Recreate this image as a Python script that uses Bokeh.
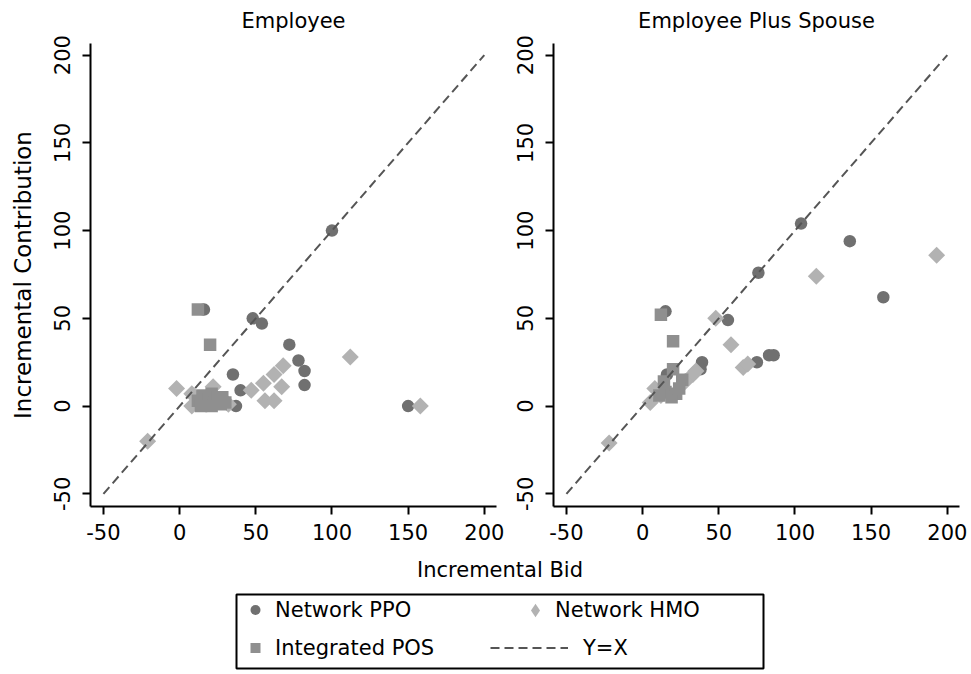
import math
from bokeh.plotting import figure
from bokeh.layouts import column, row
from bokeh.models import FixedTicker, Legend, LegendItem, Range1d, ColumnDataSource
from bokeh.embed import file_html
from bokeh.resources import INLINE

# ---------------- data ----------------
panel_titles = ["Employee", "Employee Plus Spouse"]
tick_values = [-50, 0, 50, 100, 150, 200]
tick_labels = ["-50", "0", "50", "100", "150", "200"]
diag_values = [-50, 200]

# Employee panel
emp_ppo_bid = [100, 16, 48, 54, 72, 78, 82, 82, 35, 40, 37, 150]
emp_ppo_contrib = [100, 55, 50, 47, 35, 26, 20, 12, 18, 9, 0, 0]
emp_hmo_bid = [112, 68, -2, 47, 55, 62, 67, 56, 62, 158, -21, 8, 22, 32, 8]
emp_hmo_contrib = [28, 23, 10, 9, 13, 18, 11, 3, 3, 0, -20, 7, 11, 1, 0]
emp_pos_bid = [12, 20, 12, 15, 17, 19, 21, 23, 25, 27, 28, 14, 21, 30]
emp_pos_contrib = [55, 35, 3, 6, 1, 4, 7, 2, 5, 1, 5, 0, 0, 2]

# Employee Plus Spouse panel
sp_ppo_bid = [104, 136, 158, 76, 15, 56, 83, 86, 75, 39, 38, 16]
sp_ppo_contrib = [104, 94, 62, 76, 54, 49, 29, 29, 25, 25, 21, 18]
sp_hmo_bid = [193, 114, 48, 58, 66, 69, 33, 35, 5, -22, 8, 12, 28]
sp_hmo_contrib = [86, 74, 50, 35, 22, 24, 18, 20, 2, -21, 10, 6, 14]
sp_pos_bid = [12, 20, 20, 14, 26, 15, 22, 19, 11, 24]
sp_pos_contrib = [52, 37, 21, 14, 15, 8, 7, 5, 6, 10]

legend_labels = ["Network PPO", "Network HMO", "Integrated POS", "Y=X"]
x_title = "Incremental Bid"
y_title = "Incremental Contribution"

# ---------------- style ----------------
FONT = "DejaVu Sans"
FS = "21px"
C_PPO = "#707070"
C_POS = "#8f8f8f"
C_HMO = "#b2b2b2"
C_LINE = "#555555"
DASH = "9 5"

overrides = {v: s for v, s in zip(tick_values, tick_labels)}


def style_title(t, standoff):
    t.align = "center"
    t.vertical_align = "top"
    t.text_font = FONT
    t.text_font_size = FS
    t.text_font_style = "normal"
    t.text_color = "black"
    t.standoff = standoff


def panel(title, ppo_src, hmo_src, pos_src, width, min_left, min_right, ylabel=None):
    p = figure(width=width, height=546,
               x_range=Range1d(-58.5, 208), y_range=Range1d(-57.2, 206.6),
               output_backend="svg", toolbar_location=None,
               min_border_left=min_left, min_border_right=min_right,
               min_border_top=42, min_border_bottom=40)
    p.title.text = title
    style_title(p.title, 17)
    p.outline_line_color = None
    p.grid.visible = False
    for ax in (p.xaxis[0], p.yaxis[0]):
        ax.ticker = FixedTicker(ticks=tick_values)
        ax.major_label_overrides = overrides
        ax.axis_line_width = 2
        ax.axis_line_color = "black"
        ax.major_tick_line_width = 2
        ax.major_tick_line_color = "black"
        ax.major_tick_out = 8
        ax.major_tick_in = 0
        ax.minor_tick_line_color = None
        ax.major_label_text_font = FONT
        ax.major_label_text_font_size = FS
        ax.major_label_text_color = "black"
    p.xaxis.major_label_standoff = 9
    p.yaxis.major_label_standoff = 12
    p.yaxis.major_label_orientation = "vertical"
    if ylabel:
        p.yaxis.axis_label = ylabel
        p.yaxis.axis_label_text_font = FONT
        p.yaxis.axis_label_text_font_size = "23px"
        p.yaxis.axis_label_text_font_style = "normal"
        p.yaxis.axis_label_text_color = "black"
        p.yaxis.axis_label_standoff = 16
    p.scatter("x", "y", source=ppo_src, marker="circle", size=12.5, color=C_PPO, line_color=None)
    p.scatter("x", "y", source=hmo_src, marker="square", size=12, angle=math.pi / 4,
              color=C_HMO, line_color=None)
    p.scatter("x", "y", source=pos_src, marker="square", size=12.5, color=C_POS, line_color=None)
    p.line(diag_values, diag_values, line_color=C_LINE, line_width=2, line_dash=DASH)
    return p


emp_ppo = ColumnDataSource(dict(x=emp_ppo_bid, y=emp_ppo_contrib))
emp_hmo = ColumnDataSource(dict(x=emp_hmo_bid, y=emp_hmo_contrib))
emp_pos = ColumnDataSource(dict(x=emp_pos_bid, y=emp_pos_contrib))
sp_ppo = ColumnDataSource(dict(x=sp_ppo_bid, y=sp_ppo_contrib))
sp_hmo = ColumnDataSource(dict(x=sp_hmo_bid, y=sp_hmo_contrib))
sp_pos = ColumnDataSource(dict(x=sp_pos_bid, y=sp_pos_contrib))
diag_src = ColumnDataSource(dict(x=diag_values, y=diag_values))

p1 = panel(panel_titles[0], emp_ppo, emp_hmo, emp_pos, 510, 90, 14, ylabel=y_title)
p2 = panel(panel_titles[1], sp_ppo, sp_hmo, sp_pos, 461, 43, 12)

# ---------------- bottom: x title + legend box ----------------
p3 = figure(width=971, height=128, x_range=Range1d(0, 1), y_range=Range1d(0, 1),
            x_axis_type=None, y_axis_type=None, output_backend="svg", toolbar_location=None,
            min_border_left=236, min_border_right=208, min_border_top=47, min_border_bottom=6)
p3.grid.visible = False
p3.outline_line_color = "black"
p3.outline_line_width = 2
p3.title.text = x_title
style_title(p3.title, 22)

# hidden renderers (sharing the panels' data) that only feed the legend keys
r_ppo = p3.scatter("x", "y", source=emp_ppo, marker="circle", color=C_PPO, line_color=None, visible=False)
r_hmo = p3.scatter("x", "y", source=emp_hmo, marker="diamond", color=C_HMO, line_color=None, visible=False)
r_pos = p3.scatter("x", "y", source=emp_pos, marker="square", color=C_POS, line_color=None, visible=False)
r_line = p3.line("x", "y", source=diag_src, line_color=C_LINE, line_width=2, line_dash=DASH, visible=False)


def make_legend(items, loc, glyph_w, glyph_h, standoff, spacing=13):
    leg = Legend(items=items, location=loc, glyph_width=glyph_w, glyph_height=glyph_h,
                 label_height=25, label_standoff=standoff, padding=5, spacing=spacing,
                 margin=0, border_line_color=None, background_fill_alpha=0,
                 inactive_fill_alpha=0,
                 label_text_font=FONT, label_text_font_size=FS, label_text_color="black")
    p3.add_layout(leg)
    return leg


make_legend([LegendItem(label=legend_labels[0], renderers=[r_ppo]),
             LegendItem(label=legend_labels[2], renderers=[r_pos])], (5, 8), 28, 25, 6)
make_legend([LegendItem(label=legend_labels[1], renderers=[r_hmo])], (282, 41), 34, 34, 3)
make_legend([LegendItem(label=legend_labels[3], renderers=[r_line])], (254, 8), 78, 25, 15)

layout = column(row(p1, p2), p3)
open("out.html", "w").write(file_html(layout, INLINE))
